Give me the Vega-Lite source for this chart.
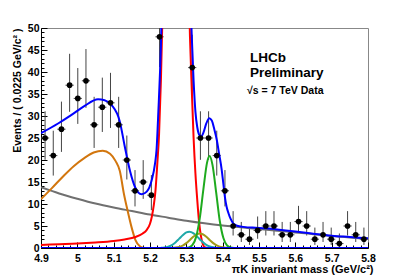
{
  "$schema": "https://vega.github.io/schema/vega-lite/v6.json",
  "width": 327,
  "height": 220,
  "autosize": {"type": "none"},
  "padding": {"left": 41, "top": 28, "right": 41, "bottom": 29},
  "background": "white",
  "config": {
    "view": {"stroke": "#888888", "strokeWidth": 1},
    "font": "Liberation Sans",
    "axis": {"labelFont": "Liberation Sans", "titleFont": "Liberation Sans", "labelFontWeight": "bold", "titleFontWeight": "bold", "grid": false, "domainColor": "#000000", "tickColor": "#000000", "labelColor": "#000000", "titleColor": "#000000"}
  },
  "datasets": {
    "pts": [
      {"m": 4.91125, "n": 25, "lo": 20.04, "hi": 31.07, "xlo": 4.9, "xhi": 4.9225},
      {"m": 4.93375, "n": 21, "lo": 16.46, "hi": 26.66, "xlo": 4.9225, "xhi": 4.945},
      {"m": 4.95625, "n": 27, "lo": 21.84, "hi": 33.27, "xlo": 4.945, "xhi": 4.9675},
      {"m": 4.97875, "n": 37, "lo": 30.95, "hi": 44.14, "xlo": 4.9675, "xhi": 4.99},
      {"m": 5.00125, "n": 34, "lo": 28.2, "hi": 40.9, "xlo": 4.99, "xhi": 5.0125},
      {"m": 5.02375, "n": 38, "lo": 31.86, "hi": 45.22, "xlo": 5.0125, "xhi": 5.035},
      {"m": 5.04625, "n": 28, "lo": 22.74, "hi": 34.36, "xlo": 5.035, "xhi": 5.0575},
      {"m": 5.06875, "n": 32, "lo": 26.37, "hi": 38.72, "xlo": 5.0575, "xhi": 5.08},
      {"m": 5.09125, "n": 33, "lo": 27.29, "hi": 39.81, "xlo": 5.08, "xhi": 5.1025},
      {"m": 5.11375, "n": 28, "lo": 22.74, "hi": 34.36, "xlo": 5.1025, "xhi": 5.125},
      {"m": 5.13625, "n": 20, "lo": 15.57, "hi": 25.56, "xlo": 5.125, "xhi": 5.1475},
      {"m": 5.15875, "n": 13, "lo": 9.45, "hi": 17.71, "xlo": 5.1475, "xhi": 5.17},
      {"m": 5.18125, "n": 15, "lo": 11.17, "hi": 19.97, "xlo": 5.17, "xhi": 5.1925},
      {"m": 5.20375, "n": 12, "lo": 8.59, "hi": 16.57, "xlo": 5.1925, "xhi": 5.215},
      {"m": 5.22625, "n": 48, "lo": 41.1, "hi": 55.98, "xlo": 5.215, "xhi": 5.2375},
      {"m": 5.24875, "n": 125, "lo": 114.3, "hi": 137.2, "xlo": 5.2375, "xhi": 5.26},
      {"m": 5.27125, "n": 185, "lo": 171.9, "hi": 199.1, "xlo": 5.26, "xhi": 5.2825},
      {"m": 5.29375, "n": 130, "lo": 119.1, "hi": 142.4, "xlo": 5.2825, "xhi": 5.305},
      {"m": 5.31625, "n": 41, "lo": 34.62, "hi": 48.46, "xlo": 5.305, "xhi": 5.3275},
      {"m": 5.33875, "n": 25, "lo": 20.04, "hi": 31.07, "xlo": 5.3275, "xhi": 5.35},
      {"m": 5.36125, "n": 25, "lo": 20.04, "hi": 31.07, "xlo": 5.35, "xhi": 5.3725},
      {"m": 5.38375, "n": 21, "lo": 16.46, "hi": 26.66, "xlo": 5.3725, "xhi": 5.395},
      {"m": 5.40625, "n": 13, "lo": 9.45, "hi": 17.71, "xlo": 5.395, "xhi": 5.4175},
      {"m": 5.42875, "n": 5, "lo": 2.84, "hi": 8.38, "xlo": 5.4175, "xhi": 5.44},
      {"m": 5.45125, "n": 3, "lo": 1.37, "hi": 5.92, "xlo": 5.44, "xhi": 5.4625},
      {"m": 5.47375, "n": 2, "lo": 0.71, "hi": 4.64, "xlo": 5.4625, "xhi": 5.485},
      {"m": 5.49625, "n": 4, "lo": 2.09, "hi": 7.16, "xlo": 5.485, "xhi": 5.5075},
      {"m": 5.51875, "n": 5, "lo": 2.84, "hi": 8.38, "xlo": 5.5075, "xhi": 5.53},
      {"m": 5.54125, "n": 5, "lo": 2.84, "hi": 8.38, "xlo": 5.53, "xhi": 5.5525},
      {"m": 5.56375, "n": 3, "lo": 1.37, "hi": 5.92, "xlo": 5.5525, "xhi": 5.575},
      {"m": 5.58625, "n": 3, "lo": 1.37, "hi": 5.92, "xlo": 5.575, "xhi": 5.5975},
      {"m": 5.60875, "n": 6, "lo": 3.62, "hi": 9.58, "xlo": 5.5975, "xhi": 5.62},
      {"m": 5.63125, "n": 5, "lo": 2.84, "hi": 8.38, "xlo": 5.62, "xhi": 5.6425},
      {"m": 5.65375, "n": 2, "lo": 0.71, "hi": 4.64, "xlo": 5.6425, "xhi": 5.665},
      {"m": 5.67625, "n": 3, "lo": 1.37, "hi": 5.92, "xlo": 5.665, "xhi": 5.6875},
      {"m": 5.69875, "n": 2, "lo": 0.71, "hi": 4.64, "xlo": 5.6875, "xhi": 5.71},
      {"m": 5.72125, "n": 1, "lo": 0.17, "hi": 3.3, "xlo": 5.71, "xhi": 5.7325},
      {"m": 5.74375, "n": 5, "lo": 2.84, "hi": 8.38, "xlo": 5.7325, "xhi": 5.755},
      {"m": 5.76625, "n": 3, "lo": 1.37, "hi": 5.92, "xlo": 5.755, "xhi": 5.7775},
      {"m": 5.78875, "n": 2, "lo": 0.71, "hi": 4.64, "xlo": 5.7775, "xhi": 5.8}
    ],
    "curves": [
      {"s": "gray", "m": 4.90, "v": 13.8}, {"s": "gray", "m": 4.95, "v": 12.4}, {"s": "gray", "m": 5.00, "v": 11.2}, {"s": "gray", "m": 5.05, "v": 10.1}, {"s": "gray", "m": 5.10, "v": 9.2}, {"s": "gray", "m": 5.15, "v": 8.4}, {"s": "gray", "m": 5.20, "v": 7.6}, {"s": "gray", "m": 5.25, "v": 6.9}, {"s": "gray", "m": 5.30, "v": 6.2}, {"s": "gray", "m": 5.35, "v": 5.6}, {"s": "gray", "m": 5.40, "v": 5.1}, {"s": "gray", "m": 5.45, "v": 4.7}, {"s": "gray", "m": 5.50, "v": 4.3}, {"s": "gray", "m": 5.55, "v": 3.9}, {"s": "gray", "m": 5.60, "v": 3.55}, {"s": "gray", "m": 5.65, "v": 3.15}, {"s": "gray", "m": 5.70, "v": 2.75}, {"s": "gray", "m": 5.75, "v": 2.4}, {"s": "gray", "m": 5.80, "v": 2.05},
      {"s": "orange", "m": 4.90, "v": 11.1}, {"s": "orange", "m": 4.93, "v": 13.6}, {"s": "orange", "m": 4.96, "v": 16.2}, {"s": "orange", "m": 4.99, "v": 18.6}, {"s": "orange", "m": 5.02, "v": 20.5}, {"s": "orange", "m": 5.045, "v": 21.7}, {"s": "orange", "m": 5.07, "v": 22.1}, {"s": "orange", "m": 5.09, "v": 21.4}, {"s": "orange", "m": 5.105, "v": 19.8}, {"s": "orange", "m": 5.117, "v": 17.5}, {"s": "orange", "m": 5.128, "v": 12.4}, {"s": "orange", "m": 5.138, "v": 8.6}, {"s": "orange", "m": 5.149, "v": 4.8}, {"s": "orange", "m": 5.16, "v": 1.8}, {"s": "orange", "m": 5.172, "v": 0.4}, {"s": "orange", "m": 5.185, "v": 0},
      {"s": "red", "m": 4.90, "v": 0.7}, {"s": "red", "m": 4.95, "v": 0.85}, {"s": "red", "m": 5.00, "v": 1.0}, {"s": "red", "m": 5.05, "v": 1.25}, {"s": "red", "m": 5.10, "v": 1.6}, {"s": "red", "m": 5.13, "v": 1.95}, {"s": "red", "m": 5.16, "v": 2.5}, {"s": "red", "m": 5.18, "v": 3.3}, {"s": "red", "m": 5.19, "v": 4.0}, {"s": "red", "m": 5.20, "v": 5.5}, {"s": "red", "m": 5.205, "v": 7.1}, {"s": "red", "m": 5.21, "v": 9.5}, {"s": "red", "m": 5.215, "v": 13}, {"s": "red", "m": 5.22, "v": 19}, {"s": "red", "m": 5.225, "v": 26}, {"s": "red", "m": 5.23, "v": 38}, {"s": "red", "m": 5.235, "v": 55}, {"s": "red", "m": 5.24, "v": 75}, {"s": "red", "m": 5.25, "v": 112}, {"s": "red", "m": 5.26, "v": 148}, {"s": "red", "m": 5.27, "v": 168}, {"s": "red", "m": 5.275, "v": 171}, {"s": "red", "m": 5.28, "v": 168}, {"s": "red", "m": 5.29, "v": 135}, {"s": "red", "m": 5.30, "v": 85}, {"s": "red", "m": 5.31, "v": 48}, {"s": "red", "m": 5.315, "v": 36}, {"s": "red", "m": 5.32, "v": 25}, {"s": "red", "m": 5.325, "v": 17}, {"s": "red", "m": 5.33, "v": 11}, {"s": "red", "m": 5.335, "v": 6}, {"s": "red", "m": 5.34, "v": 2.8}, {"s": "red", "m": 5.345, "v": 1.0}, {"s": "red", "m": 5.35, "v": 0.2}, {"s": "red", "m": 5.36, "v": 0},
      {"s": "teal", "m": 5.23, "v": 0.05}, {"s": "teal", "m": 5.24, "v": 0.12}, {"s": "teal", "m": 5.25, "v": 0.31}, {"s": "teal", "m": 5.26, "v": 0.67}, {"s": "teal", "m": 5.27, "v": 1.27}, {"s": "teal", "m": 5.28, "v": 2.07}, {"s": "teal", "m": 5.29, "v": 2.91}, {"s": "teal", "m": 5.30, "v": 3.53}, {"s": "teal", "m": 5.308, "v": 3.7}, {"s": "teal", "m": 5.32, "v": 3.33}, {"s": "teal", "m": 5.33, "v": 2.59}, {"s": "teal", "m": 5.34, "v": 1.74}, {"s": "teal", "m": 5.35, "v": 1.0}, {"s": "teal", "m": 5.36, "v": 0.5}, {"s": "teal", "m": 5.37, "v": 0.22}, {"s": "teal", "m": 5.38, "v": 0.08}, {"s": "teal", "m": 5.39, "v": 0.02},
      {"s": "olive", "m": 5.26, "v": 0.03}, {"s": "olive", "m": 5.27, "v": 0.09}, {"s": "olive", "m": 5.28, "v": 0.24}, {"s": "olive", "m": 5.29, "v": 0.56}, {"s": "olive", "m": 5.30, "v": 1.1}, {"s": "olive", "m": 5.31, "v": 1.84}, {"s": "olive", "m": 5.32, "v": 2.62}, {"s": "olive", "m": 5.33, "v": 3.17}, {"s": "olive", "m": 5.337, "v": 3.3}, {"s": "olive", "m": 5.345, "v": 3.13}, {"s": "olive", "m": 5.355, "v": 2.55}, {"s": "olive", "m": 5.365, "v": 1.76}, {"s": "olive", "m": 5.375, "v": 1.04}, {"s": "olive", "m": 5.385, "v": 0.52}, {"s": "olive", "m": 5.395, "v": 0.22}, {"s": "olive", "m": 5.41, "v": 0.05}, {"s": "olive", "m": 5.42, "v": 0.01},
      {"s": "green", "m": 5.297, "v": 0.02}, {"s": "green", "m": 5.307, "v": 0.14}, {"s": "green", "m": 5.317, "v": 0.69}, {"s": "green", "m": 5.327, "v": 2.53}, {"s": "green", "m": 5.337, "v": 6.79}, {"s": "green", "m": 5.347, "v": 13.4}, {"s": "green", "m": 5.357, "v": 19.4}, {"s": "green", "m": 5.364, "v": 20.9}, {"s": "green", "m": 5.372, "v": 18.9}, {"s": "green", "m": 5.382, "v": 12.7}, {"s": "green", "m": 5.392, "v": 6.2}, {"s": "green", "m": 5.402, "v": 2.26}, {"s": "green", "m": 5.412, "v": 0.6}, {"s": "green", "m": 5.422, "v": 0.12}, {"s": "green", "m": 5.432, "v": 0.02},
      {"s": "zero", "m": 4.9, "v": 0}, {"s": "zero", "m": 5.8, "v": 0}
    ],
    "total": [
      {"m": 4.90, "v": 26.1}, {"m": 4.947, "v": 28.3}, {"m": 4.983, "v": 30.2}, {"m": 5.02, "v": 32.3}, {"m": 5.057, "v": 33.8}, {"m": 5.075, "v": 33.6}, {"m": 5.094, "v": 32.5}, {"m": 5.117, "v": 28.7}, {"m": 5.13, "v": 23.3}, {"m": 5.145, "v": 17.5}, {"m": 5.159, "v": 13.8}, {"m": 5.168, "v": 12.6}, {"m": 5.177, "v": 12.2}, {"m": 5.191, "v": 12.8}, {"m": 5.205, "v": 15.5}, {"m": 5.214, "v": 19.3}, {"m": 5.218, "v": 22.3}, {"m": 5.223, "v": 31}, {"m": 5.23, "v": 46}, {"m": 5.235, "v": 63}, {"m": 5.24, "v": 83}, {"m": 5.25, "v": 120}, {"m": 5.26, "v": 156}, {"m": 5.27, "v": 176}, {"m": 5.275, "v": 179}, {"m": 5.28, "v": 176}, {"m": 5.29, "v": 143}, {"m": 5.30, "v": 95}, {"m": 5.31, "v": 60}, {"m": 5.315, "v": 48}, {"m": 5.32, "v": 38}, {"m": 5.325, "v": 31}, {"m": 5.33, "v": 27.5}, {"m": 5.335, "v": 25.8}, {"m": 5.341, "v": 25.3}, {"m": 5.347, "v": 26.2}, {"m": 5.355, "v": 28.3}, {"m": 5.363, "v": 29.5}, {"m": 5.37, "v": 29}, {"m": 5.377, "v": 27}, {"m": 5.384, "v": 24.5}, {"m": 5.39, "v": 21.5}, {"m": 5.397, "v": 18}, {"m": 5.402, "v": 14.5}, {"m": 5.406, "v": 11.7}, {"m": 5.411, "v": 9.3}, {"m": 5.416, "v": 7.9}, {"m": 5.422, "v": 6.6}, {"m": 5.429, "v": 5.6}, {"m": 5.44, "v": 5.05}, {"m": 5.457, "v": 4.8}, {"m": 5.49, "v": 4.6}, {"m": 5.517, "v": 4.5}, {"m": 5.55, "v": 4.2}, {"m": 5.6, "v": 3.75}, {"m": 5.645, "v": 3.3}, {"m": 5.7, "v": 2.8}, {"m": 5.75, "v": 2.5}, {"m": 5.8, "v": 2.2}
    ],
    "bigtext": [
      {"t": "LHCb", "m": 5.475, "v": 42.2},
      {"t": "Preliminary", "m": 5.475, "v": 38.8}
    ],
    "smalltext": [
      {"t": "√s = 7 TeV Data", "m": 5.467, "v": 35.0}
    ]
  },
  "layer": [
    {
      "data": {"name": "pts"},
      "mark": {"type": "rule", "color": "#444444", "strokeWidth": 1, "clip": true},
      "encoding": {
        "x": {"field": "m", "type": "quantitative", "scale": {"domain": [4.9, 5.8], "nice": false, "zero": false},
          "axis": {"orient": "bottom", "values": [4.9, 5.0, 5.1, 5.2, 5.3, 5.4, 5.5, 5.6, 5.7, 5.8], "format": "~g", "labelFlush": false, "tickSize": -6, "labelPadding": 11, "labelFontSize": 10.5, "domainWidth": 1, "title": "πK invariant mass (GeV/c²)", "titleFontSize": 11, "titleAnchor": "end", "titleAlign": "right", "titleX": 332, "titleY": 24, "titleBaseline": "alphabetic"}},
        "y": {"field": "lo", "type": "quantitative", "scale": {"domain": [0, 50], "nice": false, "zero": true},
          "axis": {"orient": "left", "values": [0, 5, 10, 15, 20, 25, 30, 35, 40, 45, 50], "format": "d", "labelFlush": false, "tickSize": -6, "labelPadding": 8, "labelFontSize": 10.5, "domainWidth": 1, "title": "Events / ( 0.0225 GeV/c² )", "titleFontSize": 10.5, "titleAnchor": "end", "titleX": -24, "titleY": 0, "titleAlign": "right", "titleBaseline": "middle", "titleAngle": -90}},
        "y2": {"field": "hi"}
      }
    },
    {
      "data": {"name": "pts"},
      "mark": {"type": "point", "opacity": 0},
      "encoding": {
        "x": {"field": "m", "type": "quantitative", "axis": {"orient": "bottom", "values": [4.92, 4.94, 4.96, 4.98, 5.02, 5.04, 5.06, 5.08, 5.12, 5.14, 5.16, 5.18, 5.22, 5.24, 5.26, 5.28, 5.32, 5.34, 5.36, 5.38, 5.42, 5.44, 5.46, 5.48, 5.52, 5.54, 5.56, 5.58, 5.62, 5.64, 5.66, 5.68, 5.72, 5.74, 5.76, 5.78], "labels": false, "domain": false, "tickSize": -3, "title": null}},
        "y": {"field": "n", "type": "quantitative", "axis": {"orient": "left", "values": [1, 2, 3, 4, 6, 7, 8, 9, 11, 12, 13, 14, 16, 17, 18, 19, 21, 22, 23, 24, 26, 27, 28, 29, 31, 32, 33, 34, 36, 37, 38, 39, 41, 42, 43, 44, 46, 47, 48, 49], "labels": false, "domain": false, "tickSize": -3, "title": null}}
      }
    },
    {
      "data": {"name": "pts"},
      "mark": {"type": "rule", "color": "#444444", "strokeWidth": 1, "clip": true},
      "encoding": {
        "x": {"field": "xlo", "type": "quantitative", "axis": null},
        "x2": {"field": "xhi"},
        "y": {"field": "n", "type": "quantitative", "axis": null}
      }
    },
    {
      "data": {"name": "curves"},
      "mark": {"type": "line", "strokeWidth": 2, "interpolate": "monotone", "clip": true},
      "encoding": {
        "x": {"field": "m", "type": "quantitative", "axis": null},
        "y": {"field": "v", "type": "quantitative", "axis": null},
        "color": {"field": "s", "type": "nominal", "legend": null,
          "scale": {"domain": ["gray", "orange", "teal", "olive", "green", "red", "zero"], "range": ["#707070", "#d2760e", "#1fa8a8", "#a09a1a", "#1eaa1e", "#ff0000", "#0000ff"]}}
      }
    },
    {
      "data": {"name": "total"},
      "mark": {"type": "line", "strokeWidth": 2, "interpolate": "monotone", "clip": true, "color": "#0000ff"},
      "encoding": {
        "x": {"field": "m", "type": "quantitative", "axis": null},
        "y": {"field": "v", "type": "quantitative", "axis": null}
      }
    },
    {
      "data": {"name": "pts"},
      "mark": {"type": "circle", "color": "#000000", "opacity": 1, "size": 32, "clip": true},
      "encoding": {
        "x": {"field": "m", "type": "quantitative", "axis": null},
        "y": {"field": "n", "type": "quantitative", "axis": null}
      }
    },
    {
      "data": {"name": "bigtext"},
      "mark": {"type": "text", "font": "Liberation Sans", "fontWeight": "bold", "fontSize": 13.5, "align": "left", "baseline": "alphabetic", "color": "#000000"},
      "encoding": {
        "x": {"field": "m", "type": "quantitative", "axis": null},
        "y": {"field": "v", "type": "quantitative", "axis": null},
        "text": {"field": "t"}
      }
    },
    {
      "data": {"name": "smalltext"},
      "mark": {"type": "text", "font": "Liberation Sans", "fontWeight": "bold", "fontSize": 10.5, "align": "left", "baseline": "alphabetic", "color": "#000000"},
      "encoding": {
        "x": {"field": "m", "type": "quantitative", "axis": null},
        "y": {"field": "v", "type": "quantitative", "axis": null},
        "text": {"field": "t"}
      }
    }
  ],
  "resolve": {"axis": {"x": "independent", "y": "independent"}}
}
